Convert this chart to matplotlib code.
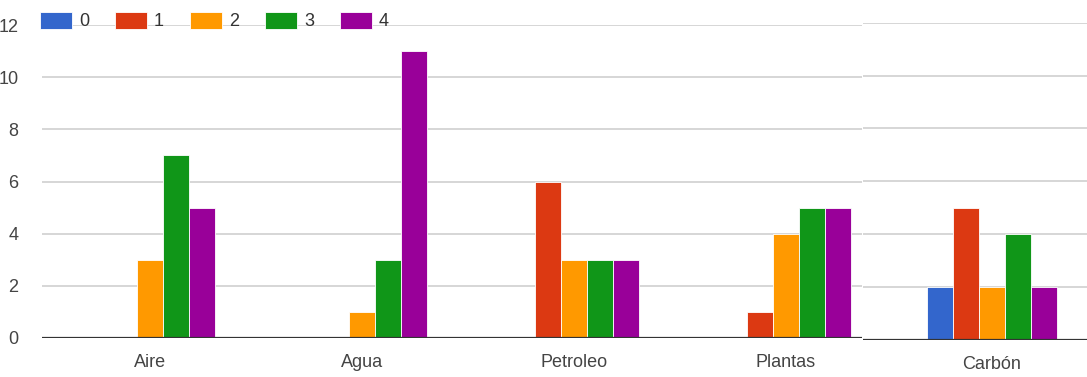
import matplotlib.pyplot as plt
import numpy as np

categories = ["Aire", "Agua", "Petroleo", "Plantas", "Carbón"]
series_names = ["0", "1", "2", "3", "4"]
values_0 = [0, 0, 0, 0, 2]
values_1 = [0, 0, 6, 1, 5]
values_2 = [3, 1, 3, 4, 2]
values_3 = [7, 3, 3, 5, 4]
values_4 = [5, 11, 3, 5, 2]
colors = ["#3366CC", "#DC3912", "#FF9900", "#109618", "#990099"]

plt.rcParams["font.family"] = ["Liberation Sans", "DejaVu Sans"]

W, H = 1087, 377
fig = plt.figure(figsize=(W / 100, H / 100), dpi=100)
# the reference is two screenshots stitched together: the Carbón part
# sits a few pixels off, so it gets its own axes
ax = fig.add_axes([42 / W, 39 / H, (862 - 42) / W, 313 / H])
ax2 = fig.add_axes([863 / W, 37 / H, (W - 863) / W, 317.3 / H])

x = np.arange(len(categories))
width = 0.123
all_values = [values_0, values_1, values_2, values_3, values_4]


def draw(a, xlim):
    for i, (vals, name, col) in enumerate(zip(all_values, series_names, colors)):
        a.bar(x + (i - 2) * width, vals, width, color=col, label=name,
              edgecolor="white", linewidth=0.6, zorder=3)
    a.set_yticks(range(0, 13, 2))
    a.set_xticks(x)
    a.set_xticklabels(categories)
    # limits after the ticks, otherwise set_xticks widens the view
    a.set_xlim(*xlim)
    a.set_ylim(0, 12)
    a.grid(axis="y", color="#d0d0d0", linewidth=1.2, zorder=0)
    a.axhline(0, color="#333333", linewidth=1.6, zorder=4)
    for s in a.spines.values():
        s.set_visible(False)
    a.tick_params(axis="both", length=0, labelsize=13, colors="#444444")
    a.tick_params(axis="y", pad=17)
    a.tick_params(axis="x", pad=11.5)


draw(ax, (-0.51, (862 - 150) / 212))
draw(ax2, (4 - (992 - 863) / 212, 4 + (W - 992) / 212))
ax2.tick_params(axis="y", labelleft=False)

handles, labels = ax.get_legend_handles_labels()
leg = fig.legend(handles, labels, loc="center left",
                 bbox_to_anchor=(40 / W, 1 - 21 / H),
                 ncol=5, frameon=False, fontsize=13, handlelength=1.75,
                 handleheight=1.1, handletextpad=0.4, columnspacing=1.45,
                 borderaxespad=0, borderpad=0)
for t in leg.get_texts():
    t.set_color("#333333")

fig.savefig("out.png", dpi=100)
